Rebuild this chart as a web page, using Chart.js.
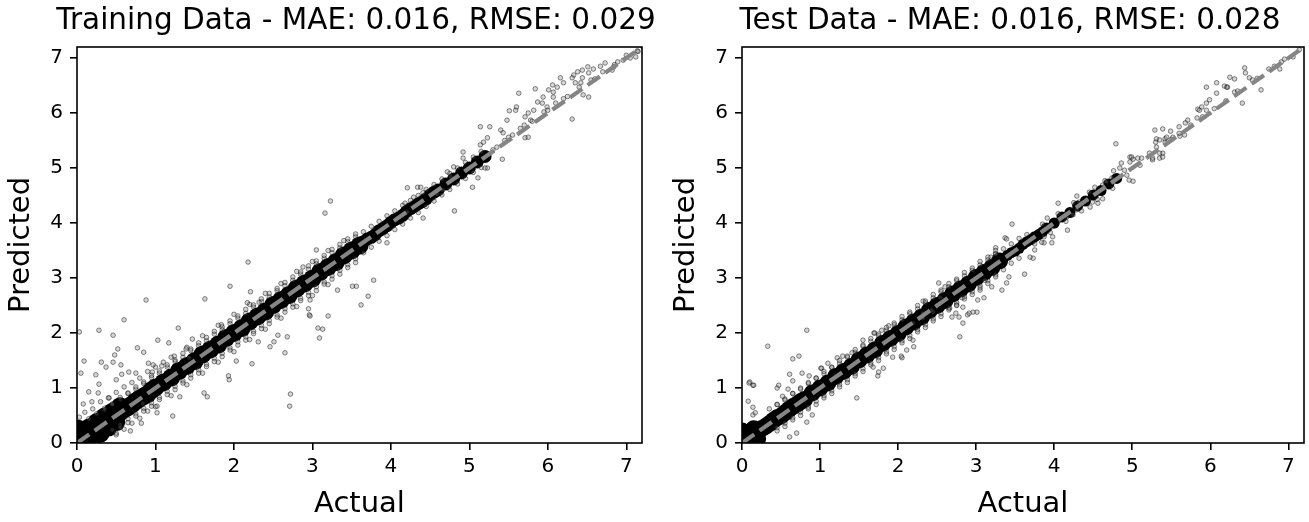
<!DOCTYPE html>
<html><head><meta charset="utf-8">
<script src="https://cdn.jsdelivr.net/npm/chart.js@4.4.1/dist/chart.umd.min.js"></script>
<style>
html,body{margin:0;padding:0;background:#fff;width:1309px;height:522px;overflow:hidden;position:relative}
canvas{position:absolute;top:0}
#c1{left:0}
#c2{left:665px}
</style></head><body>
<canvas id="c1" width="712" height="522"></canvas>
<canvas id="c2" width="690" height="522"></canvas>
<script>
// ---------------- data ----------------
const axisMin = 0, axisMax = 7.2;
const tickValues = [0, 1, 2, 3, 4, 5, 6, 7];
const titles = ['Training Data - MAE: 0.016, RMSE: 0.029', 'Test Data - MAE: 0.016, RMSE: 0.028'];
const xLabel = 'Actual', yLabel = 'Predicted';
const identityLine = [[0, 0], [7.2, 7.2]];

// dense band of the training set (actual, predicted)
const trainCore = [
[0.00,0.02],[0.10,0.08],[0.20,0.22],[0.30,0.29],[0.40,0.41],[0.50,0.49],[0.60,0.61],[0.70,0.70],[0.80,0.81],[0.90,0.89],
[1.00,1.01],[1.10,1.10],[1.20,1.19],[1.30,1.31],[1.40,1.40],[1.50,1.49],[1.60,1.61],[1.70,1.70],[1.80,1.79],[1.90,1.91],
[2.00,2.00],[2.10,2.09],[2.20,2.21],[2.30,2.30],[2.40,2.39],[2.50,2.51],[2.60,2.60],[2.70,2.69],[2.80,2.81],[2.90,2.90],
[3.00,2.99],[3.10,3.11],[3.20,3.20],[3.30,3.29],[3.40,3.41],[3.50,3.50],[3.60,3.59],
[0.05,0.06],[0.15,0.16],[0.25,0.25],[0.35,0.36],[0.45,0.45],[0.55,0.56],[0.65,0.65],[0.75,0.76],[0.85,0.85],[0.95,0.96],
[0.05,0.18],[0.15,0.28],[0.25,0.38],[0.35,0.48],[0.45,0.57],[0.55,0.67],
[0.08,-0.02],[0.20,0.07],[0.30,0.17],[0.40,0.28],[0.50,0.38],
[0.02,0.26],[0.00,0.15]
];
const trainCoreThin = [
[3.70,3.71],[3.80,3.79],[3.90,3.90],[4.00,4.01],[4.10,4.09],[4.20,4.21],[4.30,4.30],[4.40,4.39],[4.50,4.51],[4.60,4.60],
[4.70,4.71],[4.80,4.80],[4.90,4.91],[5.00,5.00],[5.10,5.11],[5.20,5.21],
[3.65,3.66],[3.75,3.74],[3.85,3.86],[3.95,3.95],[4.05,4.06],[4.15,4.14],[4.25,4.26],[4.35,4.35],[4.45,4.44],[4.55,4.56]
];
const trainEdge = [
[0.15,0.44],[0.25,0.53],[0.35,0.63],[0.45,0.71],[0.55,0.83],[0.65,0.91],[0.75,1.02],[0.85,1.11],[0.95,1.23],[1.05,1.31],
[1.15,1.42],[1.25,1.51],[1.35,1.63],[1.45,1.71],[1.55,1.82],[1.65,1.92],[1.75,2.03],[1.85,2.11],[1.95,2.22],[2.05,2.31],
[2.15,2.43],[2.25,2.51],[2.35,2.62],[2.45,2.72],[2.55,2.81],[2.65,2.92],[2.75,3.02],[2.85,3.11],[2.95,3.22],[3.05,3.31],
[3.15,3.41],[3.25,3.52],[3.35,3.61],[3.45,3.71],[3.55,3.80],
[0.55,0.28],[0.65,0.37],[0.75,0.49],[0.85,0.58],[0.95,0.67],[1.05,0.79],[1.15,0.88],[1.25,0.97],[1.35,1.09],[1.45,1.18],
[1.55,1.27],[1.65,1.39],[1.75,1.48],[1.85,1.57],[1.95,1.69],[2.05,1.78],[2.15,1.87],[2.25,1.99],[2.35,2.08],[2.45,2.17],
[2.55,2.29],[2.65,2.38],[2.75,2.47],[2.85,2.59],[2.95,2.68],[3.05,2.77],[3.15,2.89],[3.25,2.98],[3.35,3.07],[3.45,3.19],
[3.55,3.28]
];
const trainHaloAbove = [
[0.35,0.60],[0.45,0.70],[0.55,0.79],[0.65,0.90],[0.75,0.98],[0.85,1.08],[0.95,1.19],[1.05,1.27],[1.15,1.38],[1.25,1.48],
[1.35,1.56],[1.45,1.68],[1.55,1.77],[1.65,1.86],[1.75,1.98],[1.85,2.06],[1.95,2.17],[2.05,2.27],[2.15,2.36],[2.25,2.47],
[2.35,2.57],[2.45,2.66],[2.55,2.77],[2.65,2.86],[2.75,2.96],[2.85,3.07],[2.95,3.16],[3.05,3.26],[3.15,3.36],[3.25,3.46],
[3.35,3.55],[3.45,3.66],[3.55,3.75],[3.65,3.84],[3.75,3.94],[3.85,4.03],[3.95,4.13],[4.05,4.22],[4.15,4.32],[4.25,4.41],
[4.35,4.50],[4.45,4.61],[4.55,4.70],[4.65,4.80],[4.75,4.90],[4.85,5.00],[4.95,5.10],[5.05,5.20],[5.15,5.30],
[0.20,0.62],[0.30,0.75],[0.40,0.82],[0.50,0.92],[0.60,1.02],[0.70,1.10],[0.80,1.18],[0.90,1.30],[1.00,1.38],[1.10,1.47],
[1.20,1.56],[1.40,1.74],[1.60,1.95],[1.80,2.14],[2.00,2.34],[2.20,2.52],[2.40,2.72],[2.60,2.90],[2.80,3.12],[3.00,3.30],
[3.20,3.50],[3.40,3.68]
];
const trainHaloBelow = [
[0.45,0.24],[0.55,0.33],[0.65,0.44],[0.75,0.53],[0.85,0.63],[0.95,0.73],[1.05,0.83],[1.15,0.94],[1.25,1.03],[1.35,1.13],
[1.45,1.24],[1.55,1.33],[1.65,1.43],[1.75,1.54],[1.85,1.63],[1.95,1.73],[2.05,1.84],[2.15,1.93],[2.25,2.03],[2.35,2.14],
[2.45,2.23],[2.55,2.33],[2.65,2.44],[2.75,2.53],[2.85,2.63],[2.95,2.74],[3.05,2.84],[3.15,2.93],[3.25,3.04],[3.35,3.14],
[3.45,3.24],[3.55,3.35],[3.65,3.46],[3.75,3.56],[3.85,3.67],[3.95,3.77],[4.05,3.88],[4.15,3.98],[4.25,4.09],[4.35,4.19],
[4.45,4.30],[4.55,4.40],[4.65,4.51],[4.75,4.61],[4.85,4.71],[4.95,4.81],[5.05,4.92],[5.15,5.01],
[0.50,0.15],[0.60,0.25],[0.70,0.36],[0.80,0.45],[0.90,0.58],[1.00,0.66],[1.20,0.86],[1.40,1.06],[1.60,1.27],[1.80,1.47],
[2.00,1.66],[2.20,1.88],[2.40,2.07],[2.60,2.27],[2.80,2.48],[3.00,2.68],[3.20,2.88]
];
const trainOutliers = [
[2.18,3.29],[1.95,2.85],[2.21,2.75],[1.63,2.62],[0.88,2.60],[0.60,2.24],[0.28,2.05],[0.46,1.96],[0.03,2.02],[1.29,2.09],
[1.03,1.87],[1.17,1.82],[0.77,1.73],[0.52,1.71],[0.85,1.65],[0.48,1.60],[0.09,1.49],[0.31,1.47],[0.46,1.47],[0.56,1.42],
[0.05,1.27],[0.24,1.24],[0.37,1.38],[0.66,1.29],[0.91,1.45],[0.97,1.42],[0.50,1.15],[0.28,1.07],[0.15,0.93],[0.27,0.91],
[0.08,0.71],[0.19,0.75],[0.41,0.82],[0.03,0.47],[0.10,0.56],[0.57,1.25],[0.75,1.27],[1.22,0.49],[0.82,0.36],[0.68,0.22],
[0.50,0.18],[1.62,0.91],[1.66,0.84],[1.31,0.84],[1.93,1.22],[1.94,1.15],[2.23,1.44],[2.46,1.75],[2.31,1.84],[2.51,1.84],
[2.03,1.49],[1.39,1.71],[1.47,1.89],[1.84,2.15],[2.17,2.55],[2.32,2.56],[1.02,0.55],[1.02,0.67],[0.84,0.72],[0.96,1.29],
[1.08,1.40],[1.24,1.58],[1.43,1.55],
[2.72,0.89],[2.71,0.67],[2.65,1.64],[2.96,2.33],[3.07,2.09],
[3.23,4.40],[3.16,4.18],[3.78,2.96],[3.51,2.85],[3.56,2.85],[3.71,2.67],[3.62,2.51],[3.20,2.31],[3.13,2.07],[3.09,1.91],
[2.97,2.60],[2.95,2.44],[2.97,2.31],[3.32,2.78],[3.95,3.64],[4.41,4.09],[4.21,4.64],[4.34,4.65],[4.72,4.93],[3.05,3.51],
[2.88,3.20],[2.68,1.93],[2.56,1.96],
[4.81,4.22],[5.63,6.36],[5.60,6.11],[5.51,6.04],[5.59,6.05],[5.14,5.75],[5.26,5.75],[5.42,5.16],[5.23,5.00],[4.92,5.29],[4.92,5.18],
[7.14,7.13],[7.05,7.00],[7.12,7.02],[6.96,6.96],[6.89,6.93],[6.84,6.84],[6.82,6.78],[6.73,6.91],[6.67,6.85],[6.58,6.80],
[6.52,6.73],[6.51,6.84],[6.44,6.78],[6.38,6.75],[6.33,6.69],[6.31,6.64],[6.44,6.64],[6.42,6.55],[6.35,6.55],[6.16,6.64],
[6.20,6.55],[6.12,6.47],[6.06,6.51],[6.07,6.38],[6.01,6.42],[6.07,6.29],[5.94,6.29],[5.84,6.44],[5.87,6.20],[5.93,6.18],
[5.99,6.11],[5.82,6.05],[6.31,5.89],[6.45,6.33],[6.52,6.29],[5.75,6.00],[5.71,5.93],[5.78,5.87],[5.48,5.87],[5.40,5.69],
[5.43,5.64],[5.71,5.55],[5.75,5.56],[5.23,5.55],[5.18,5.47],[5.14,5.42],[5.20,5.00],[5.11,4.82],[5.04,4.65],[4.80,5.02],
[4.76,4.84],[4.66,4.60],[4.59,4.53],[4.38,4.65],[4.41,4.55],[4.29,4.47],[4.18,4.36],[4.21,4.20],
[5.35,5.38],[5.45,5.50],[5.55,5.60],[5.65,5.72],[5.80,5.85],[5.95,6.02],[6.10,6.18],[6.25,6.30],[6.40,6.47],[6.55,6.60],
[6.70,6.75],[6.85,6.88],[7.00,7.05],[7.15,7.12],[6.00,6.05],[6.60,6.62],[5.30,5.33],[5.50,5.56],[5.70,5.78],[6.20,6.26]
];

// dense band of the test set
const testCore = [
[0.00,0.03],[0.10,0.09],[0.20,0.21],[0.30,0.30],[0.40,0.41],[0.50,0.49],[0.60,0.61],[0.70,0.70],[0.80,0.79],[0.90,0.91],
[1.00,1.00],[1.10,1.09],[1.20,1.21],[1.30,1.30],[1.40,1.39],[1.50,1.51],[1.60,1.60],[1.70,1.69],[1.80,1.81],[1.90,1.90],
[2.00,1.99],[2.10,2.11],[2.20,2.20],[2.30,2.29],[2.40,2.41],[2.50,2.50],[2.60,2.59],[2.70,2.71],[2.80,2.80],[2.90,2.89],
[3.00,3.01],[3.10,3.10],[3.20,3.19],[3.30,3.31],
[0.05,0.06],[0.15,0.15],[0.25,0.26],[0.35,0.35],[0.45,0.46],[0.55,0.55],[0.65,0.66],[0.75,0.75],
[0.05,0.17],[0.15,0.26],[0.10,-0.02],[0.20,0.08],[0.00,0.22]
];
const testCoreThin = [
[3.40,3.41],[3.50,3.49],[3.60,3.61],[3.70,3.70],[3.80,3.79],[3.90,3.91],[4.00,4.00],[4.10,4.11],[4.20,4.19],[4.30,4.31],
[4.40,4.40],[4.50,4.51],[4.60,4.59],[4.70,4.71],[4.80,4.81],
[3.45,3.46],[3.55,3.54],[3.65,3.66],[3.75,3.75],[3.85,3.84]
];
const testEdge = [
[0.45,0.70],[0.55,0.78],[0.65,0.90],[0.75,0.98],[0.85,1.10],[0.95,1.18],[1.05,1.30],[1.15,1.38],[1.25,1.50],[1.35,1.58],
[1.45,1.70],[1.55,1.78],[1.65,1.90],[1.75,1.98],[1.85,2.10],[1.95,2.18],[2.05,2.30],[2.15,2.38],[2.25,2.50],[2.35,2.58],
[2.45,2.70],[2.55,2.78],[2.65,2.90],[2.75,2.98],[2.85,3.10],[2.95,3.18],[3.05,3.30],[3.15,3.38],[3.25,3.50],
[0.45,0.22],[0.55,0.30],[0.65,0.42],[0.75,0.50],[0.85,0.62],[0.95,0.70],[1.05,0.82],[1.15,0.90],[1.25,1.02],[1.35,1.10],
[1.45,1.22],[1.55,1.30],[1.65,1.42],[1.75,1.50],[1.85,1.62],[1.95,1.70],[2.05,1.82],[2.15,1.90],[2.25,2.02],[2.35,2.10],
[2.45,2.22],[2.55,2.30],[2.65,2.42],[2.75,2.50],[2.85,2.62],[2.95,2.70],[3.05,2.82],[3.15,2.90],[3.25,3.02]
];
const testHaloAbove = [
[0.35,0.62],[0.45,0.70],[0.55,0.80],[0.65,0.90],[0.75,1.00],[0.85,1.08],[0.95,1.18],[1.05,1.26],[1.15,1.37],[1.25,1.45],
[1.35,1.56],[1.45,1.65],[1.55,1.76],[1.65,1.85],[1.75,1.95],[1.85,2.05],[1.95,2.15],[2.05,2.24],[2.15,2.35],[2.25,2.44],
[2.35,2.55],[2.45,2.64],[2.55,2.75],[2.65,2.84],[2.75,2.95],[2.85,3.04],[2.95,3.14],[3.05,3.24],[3.15,3.33],[3.25,3.44],
[3.35,3.53],[3.45,3.62],[3.55,3.72],[3.65,3.79],[3.85,3.98],[4.05,4.17],[4.25,4.37],[4.45,4.56],[4.65,4.77]
];
const testHaloBelow = [
[0.45,0.28],[0.55,0.36],[0.65,0.46],[0.75,0.56],[0.85,0.65],[0.95,0.76],[1.05,0.86],[1.15,0.95],[1.25,1.06],[1.35,1.15],
[1.45,1.26],[1.55,1.35],[1.65,1.46],[1.75,1.55],[1.85,1.66],[1.95,1.75],[2.05,1.86],[2.15,1.95],[2.25,2.06],[2.35,2.15],
[2.45,2.26],[2.55,2.35],[2.65,2.46],[2.75,2.55],[2.85,2.66],[2.95,2.75],[3.05,2.86],[3.15,2.95],[3.25,3.06],[3.35,3.15],
[3.45,3.27],[3.55,3.36],[3.75,3.62],[3.95,3.83],[4.15,4.03],[4.35,4.22],[4.55,4.43],[4.75,4.63]
];
const testOutliers = [
[0.83,2.05],[0.33,1.76],[0.73,1.58],[0.65,1.53],[0.10,1.11],[0.14,1.05],[0.08,0.76],[0.14,0.65],[0.14,0.51],[0.17,0.55],
[0.45,1.00],[0.47,1.05],[0.61,1.25],[0.65,1.13],[0.77,1.27],[0.86,1.22],[0.52,0.85],[0.59,0.98],[1.47,0.82],
[1.02,1.36],[1.10,1.45],[1.22,1.55],[1.29,1.58],[1.41,1.64],[0.61,0.11],[0.70,0.18],[0.83,0.38],[0.90,0.51],
[1.70,2.00],[1.79,2.05],[1.55,1.87],[1.68,1.38],[1.74,1.22],[1.81,1.36],[2.05,1.55],[2.11,1.69],
[2.79,1.93],[2.83,2.18],[2.89,2.33],[3.01,2.38],[2.74,2.36],[2.83,2.47],[3.02,2.60],[2.32,2.27],[2.45,2.38],[2.19,2.18],
[2.52,2.91],[2.32,2.58],[1.75,1.29],[1.93,1.56],[2.04,1.58],[2.19,1.87],[2.20,1.75],[1.88,2.13],[1.69,2.00],[1.01,1.36],
[0.09,1.09],[0.15,1.05],
[3.46,3.98],[3.62,3.07],[3.42,3.02],[3.37,3.73],[3.39,3.71],[3.25,3.55],[3.19,3.38],[3.25,3.44],[3.10,2.64],[2.96,2.38],
[3.11,2.96],[3.05,2.78],[2.60,2.84],[2.54,2.65],[2.43,2.42],[2.32,2.36],
[4.05,4.36],[4.17,3.87],[4.29,4.49],[4.32,4.38],[3.97,3.64],[3.87,3.64],[3.75,3.51],[3.73,3.36],[3.69,3.38],
[4.52,4.65],[4.62,4.69],[4.62,4.44],[4.76,4.95],[4.86,5.09],[4.79,5.44],[4.97,5.20],[5.01,5.16],[5.12,5.18],[5.22,5.27],[5.26,5.15],
[4.96,4.78],[5.01,4.76],[5.29,5.69],[5.39,5.71],[5.49,5.67],[5.60,5.75],[5.31,5.53],[5.42,5.53],[5.31,5.38],[5.39,5.27],[5.35,5.18],
[4.84,4.84],[4.74,4.82],[4.67,4.75],[4.49,4.38],[4.56,4.36],[4.46,4.29],[4.42,4.42],[4.29,4.24],[4.24,4.15],[4.16,4.11],[4.07,4.05],
[3.91,4.09],[3.97,3.93],[3.98,3.75],[3.87,3.75],[3.84,3.65],[3.39,2.91],[3.20,2.84],[3.33,2.78],[2.82,2.64],[2.75,2.51],[2.66,2.45],
[2.69,2.29],[2.78,2.29],[2.91,2.36],
[7.14,7.15],[7.06,7.02],[6.91,6.93],[6.89,6.80],[6.82,6.85],[6.44,6.82],[6.45,6.73],[6.50,6.64],[6.54,6.60],[6.25,6.65],
[6.31,6.62],[6.22,6.47],[6.31,6.38],[6.08,6.55],[5.95,6.47],[6.08,6.36],[6.18,6.49],[6.21,6.47],[6.65,6.42],[6.41,6.18],
[5.95,6.18],[5.99,6.24],[5.84,6.07],[5.86,6.05],[5.89,6.11],[5.95,6.05],[5.71,5.87],[5.83,5.91],[5.68,5.82],
[5.30,5.47],[5.35,5.51],[5.42,5.47],[5.52,5.56],[5.61,5.58],[5.67,5.60],[5.44,5.56],
[4.99,5.20],[5.07,5.18],[4.97,5.11],[5.10,5.05],[5.26,5.18],[5.35,5.27],[5.39,5.20],[4.84,5.00],[4.90,4.96],[4.93,4.87],
[5.50,5.52],[5.60,5.63],[5.75,5.78],[5.90,5.93],[6.05,6.08],[6.20,6.22],[6.35,6.40],[6.60,6.63],[6.75,6.80],[6.95,6.98]
];

// ---------------- drawing ----------------
const FONT = "'DejaVu Sans', 'Liberation Sans', sans-serif";
const pts = arr => arr.map(([x, y]) => ({x, y}));

const framePlugin = {
  id: 'frame',
  afterDraw(chart) {
    const {ctx, chartArea: a} = chart;
    ctx.save();
    ctx.strokeStyle = '#000';
    ctx.lineWidth = 1.6;
    ctx.strokeRect(a.left, a.top, a.right - a.left, a.bottom - a.top);
    ctx.restore();
  }
};

function axisCfg(isX) {
  return {
    type: 'linear',
    min: axisMin,
    max: axisMax,
    afterBuildTicks: s => { s.ticks = tickValues.map(v => ({value: v})); },
    afterFit: s => { if (isX) s.height = 79; else s.width = 77; },
    ticks: {
      color: '#000', autoSkip: false, maxRotation: 0,
      padding: isX ? 5 : 7,
      font: {family: FONT, size: 20},
      callback: v => String(v)
    },
    grid: {display: true, drawOnChartArea: false, drawTicks: true, tickLength: 7, tickWidth: 1.6, color: '#000', lineWidth: 1.6},
    border: {display: false},
    title: {
      display: true, text: isX ? xLabel : yLabel, color: '#000',
      font: {family: FONT, size: 29},
      padding: isX ? {top: 0, bottom: 0} : {top: 4, bottom: 0}
    }
  };
}

// empty spacer axis on the right so the full-width title box is centred over the plot
function spacerAxis(width) {
  return {
    type: 'linear', position: 'right', min: axisMin, max: axisMax, display: true,
    ticks: {display: false}, grid: {display: false}, border: {display: false},
    afterFit: s => { s.width = width; }
  };
}

function makeChart(id, title, core, coreThin, edge, halo, outliers, spacer, coreR, thinR) {
  const scatterStyle = {
    pointRadius: 2.3, pointBorderWidth: 1,
    pointBackgroundColor: 'rgba(120,120,120,0.3)',
    pointBorderColor: 'rgba(0,0,0,0.45)',
    clip: 0
  };
  new Chart(document.getElementById(id), {
    type: 'scatter',
    data: {
      datasets: [
        {data: pts(identityLine), showLine: true, borderColor: '#858585', borderWidth: 4.2,
         borderDash: [15, 6.5], pointRadius: 0, order: 0, clip: 0},
        Object.assign({data: pts(halo.concat(outliers, edge)), order: 1}, scatterStyle),
        {data: pts(coreThin), pointRadius: thinR, pointBorderWidth: 0,
         pointBackgroundColor: '#000', order: 3, clip: 0},
        {data: pts(core), pointRadius: coreR, pointBorderWidth: 0,
         pointBackgroundColor: '#000', order: 4, clip: 0}
      ]
    },
    options: {
      responsive: false, animation: false, devicePixelRatio: 1,
      events: [],
      layout: {padding: 0},
      scales: {x: axisCfg(true), y: axisCfg(false), yRight: spacerAxis(spacer)},
      plugins: {
        legend: {display: false},
        tooltip: {enabled: false},
        title: {display: true, text: title, color: '#000', fullSize: true,
                font: {family: FONT, size: 29.5, weight: 'normal'},
                padding: {top: 3.5, bottom: 8.1}}
      }
    },
    plugins: [framePlugin]
  });
}

// left canvas 712 wide: plot area 77..642; right canvas 690 wide: plot area 742..1304 on the page
makeChart('c1', titles[0], trainCore, trainCoreThin, trainEdge,
          trainHaloAbove.concat(trainHaloBelow), trainOutliers, 70, 9, 6.5);
makeChart('c2', titles[1], testCore, testCoreThin, testEdge,
          testHaloAbove.concat(testHaloBelow), testOutliers, 51, 8.5, 5.5);
</script>
</body></html>
